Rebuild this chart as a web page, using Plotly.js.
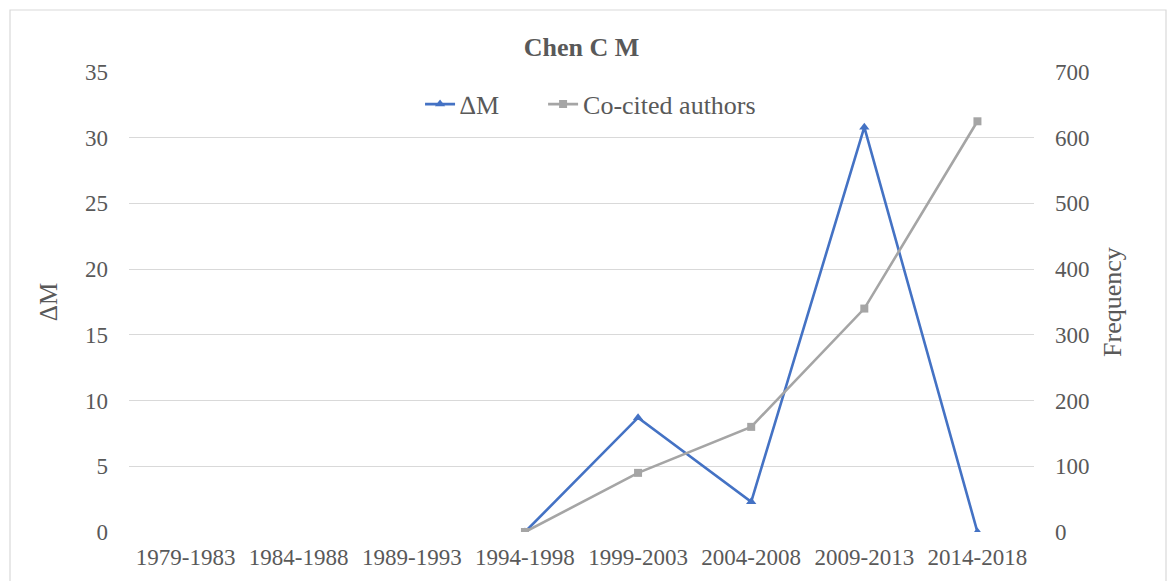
<!DOCTYPE html>
<html>
<head>
<meta charset="utf-8">
<script src="https://cdn.plot.ly/plotly-3.0.1.min.js"></script>
<style>html,body{margin:0;padding:0;background:#fff;}#chart{width:1170px;height:581px;}</style>
</head>
<body>
<div id="chart"></div>
<script>
const categories = ["1979-1983","1984-1988","1989-1993","1994-1998","1999-2003","2004-2008","2009-2013","2014-2018"];
const deltaM = [null, null, null, 0, 8.7, 2.3, 30.8, 0];
const coCited = [null, null, null, 0, 90, 160, 340, 625];
const seriesNames = ["\u2206M", "Co-cited authors"];
const leftTicks = [0,5,10,15,20,25,30,35];
const rightTicks = [0,100,200,300,400,500,600,700];

const txt = '#595959';
const fontFam = 'Liberation Serif, Times New Roman, serif';
const pad = '\u00a0'.repeat(6);

const traces = [
  {x: categories, y: deltaM, name: seriesNames[0] + pad, type: 'scatter', mode: 'lines+markers',
   line: {color: '#4472c4', width: 2.6}, marker: {symbol: 'triangle-up', size: 9, color: '#4472c4'},
   connectgaps: false, yaxis: 'y'},
  {x: categories, y: coCited, name: seriesNames[1], type: 'scatter', mode: 'lines+markers',
   line: {color: '#a5a5a5', width: 2.6}, marker: {symbol: 'square', size: 8, color: '#a5a5a5'},
   connectgaps: false, yaxis: 'y2'}
];

const layout = {
  width: 1170, height: 581,
  margin: {l: 129, r: 136, t: 72, b: 49, pad: 0},
  paper_bgcolor: '#fff', plot_bgcolor: '#fff',
  font: {family: fontFam, color: txt, size: 24},
  title: {text: '<b>Chen C M</b>', font: {family: fontFam, size: 26, color: txt},
          x: 0.5, xref: 'paper', xanchor: 'center', y: 1 - 47/581, yref: 'container', yanchor: 'middle'},
  showlegend: true,
  legend: {orientation: 'h', x: 0.51, xanchor: 'center', y: 0.93, yanchor: 'middle',
           font: {family: fontFam, size: 26, color: txt}, bgcolor: 'rgba(0,0,0,0)'},
  xaxis: {type: 'category', categoryarray: categories, showgrid: false, zeroline: false,
          showline: false, ticks: '', tickfont: {family: fontFam, size: 23, color: txt},
          ticklabelstandoff: 9, range: [-0.5, 7.5], fixedrange: true},
  yaxis: {range: [0, 35], tickvals: leftTicks, showgrid: true, gridcolor: '#d9d9d9', gridwidth: 1.2,
          zeroline: false, showline: false, ticks: '', ticklabelstandoff: 20,
          tickfont: {family: fontFam, size: 23, color: txt},
          title: {text: '\u0394M', font: {family: fontFam, size: 25, color: txt}, standoff: 20}},
  yaxis2: {range: [0, 700], tickvals: rightTicks, overlaying: 'y', side: 'right', showgrid: false,
          zeroline: false, showline: false, ticks: '', ticklabelstandoff: 20,
          tickfont: {family: fontFam, size: 23, color: txt},
          title: {text: 'Frequency', font: {family: fontFam, size: 26, color: txt}, standoff: 14}},
  shapes: [{type: 'rect', xref: 'paper', yref: 'paper',
            x0: (10-129)/905, x1: (1166-129)/905, y0: (532-600)/460, y1: (532-10)/460,
            line: {color: '#d9d9d9', width: 1.2}, fillcolor: 'rgba(0,0,0,0)', layer: 'below'}]
};

Plotly.newPlot('chart', traces, layout, {displayModeBar: false, staticPlot: true});
</script>
</body>
</html>
